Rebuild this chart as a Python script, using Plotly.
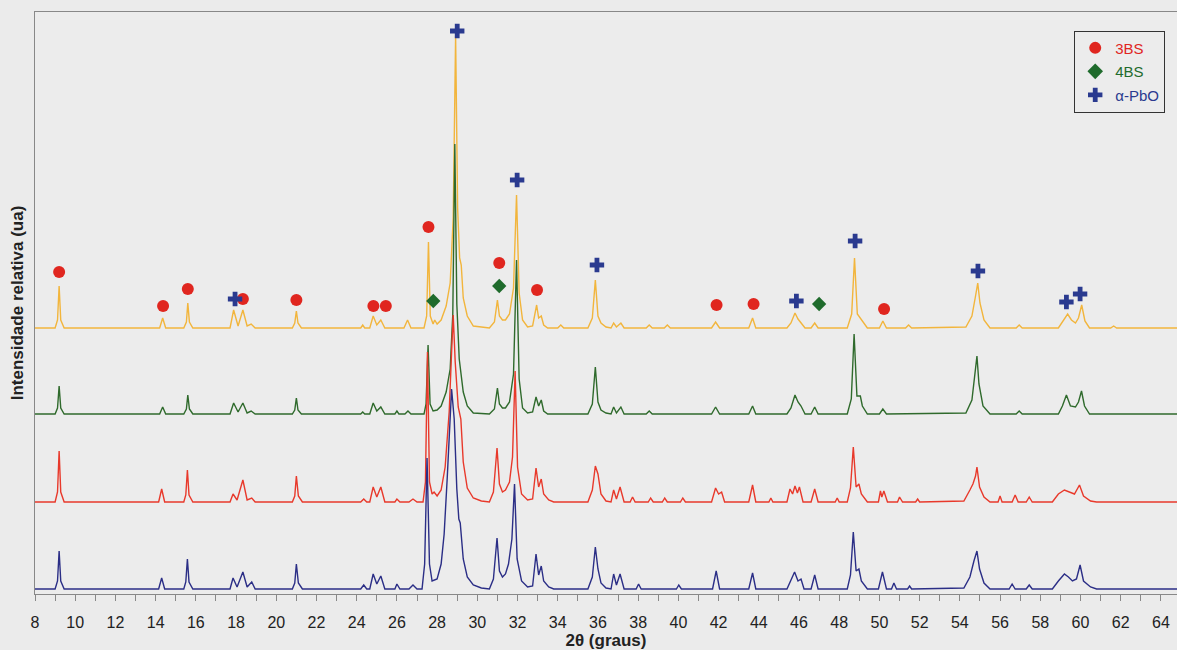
import plotly.graph_objects as go

# ---- data: vertices (2theta, height above the trace's own baseline)
yellow_pts = [(8,0),(9.0,0),(9.12,8),(9.2,42),(9.28,8),(9.45,0),
(14.2,0),(14.35,10),(14.5,0),
(15.4,0),(15.53,6),(15.6,25),(15.68,6),(15.85,0),
(17.7,0),(17.88,18),(18.1,2),(18.34,18),(18.55,2),(18.75,4),(18.95,0),
(20.8,0),(20.92,5),(21.0,17),(21.08,5),(21.25,0),
(24.2,0),(24.3,3),(24.4,0),(24.65,0),(24.82,12),(25.0,3),(25.2,8),(25.4,0),
(26.35,0),(26.53,8),(26.7,0),
(27.35,0),(27.48,12),(27.57,86),(27.66,12),(27.8,4),(27.88,8),(28.0,4),
(28.2,8),(28.45,22),(28.65,45),(28.8,110),(28.92,292),(29.02,120),(29.12,70),(29.2,63),(29.3,30),(29.5,12),(29.8,2),
(30.6,0),(30.85,6),(31.0,28),(31.1,12),(31.25,8),(31.4,8),(31.6,14),(31.8,40),(31.95,133),(32.08,35),(32.25,8),(32.5,1),
(32.75,2),(32.95,23),(33.05,10),(33.18,12),(33.3,3),(33.5,0),
(34.0,0),(34.15,3),(34.3,0),
(35.5,0),(35.72,10),(35.87,48),(36.0,12),(36.15,5),(36.4,1),
(36.65,0),(36.78,5),(36.92,1),(37.14,5),(37.3,0),
(38.4,0),(38.55,3),(38.7,0),
(39.3,0),(39.45,3),(39.6,0),
(41.65,0),(41.85,6),(42.05,0),
(43.5,0),(43.69,10),(43.85,0),
(45.4,0),(45.6,5),(45.8,15),(45.95,9),(46.1,5),(46.3,0),
(46.6,0),(46.78,5),(46.95,0),
(48.4,0),(48.62,14),(48.76,70),(48.9,14),(49.05,10),(49.15,7),(49.4,0),
(50.0,0),(50.17,7),(50.35,0),
(51.3,0),(51.45,3),(51.6,0),
(54.3,1),(54.6,12),(54.78,32),(54.89,45),(55.0,25),(55.2,8),(55.5,0),
(56.8,0),(56.95,3),(57.1,0),
(58.9,0),(59.2,9),(59.36,14),(59.55,8),(59.75,5),(59.9,10),(60.06,23),(60.22,7),(60.45,0),
(61.5,0),(61.65,2),(61.8,0),
(64.8,0)]

green_pts = [(8,0),(9.0,0),(9.12,6),(9.2,28),(9.28,6),(9.45,0),
(14.2,0),(14.35,7),(14.5,0),
(15.4,0),(15.53,5),(15.6,19),(15.68,5),(15.85,0),
(17.7,0),(17.88,11),(18.1,2),(18.34,11),(18.55,1),(18.75,3),(18.95,0),
(20.8,0),(20.92,4),(21.0,16),(21.08,4),(21.25,0),
(24.2,0),(24.3,2),(24.4,0),(24.65,0),(24.82,11),(25.0,3),(25.2,7),(25.4,0),
(25.9,0),(26.0,3),(26.1,0),
(26.4,0),(26.55,3),(26.7,0),
(27.35,0),(27.45,10),(27.55,69),(27.65,10),(27.8,3),(28.0,4),
(28.2,8),(28.45,22),(28.65,45),(28.78,100),(28.88,270),(28.98,110),(29.1,55),(29.2,40),(29.3,22),(29.5,8),(29.8,1),
(30.6,0),(30.85,5),(31.0,26),(31.1,10),(31.25,6),(31.4,6),(31.6,12),(31.8,40),(31.95,154),(32.08,35),(32.25,6),(32.5,1),
(32.75,2),(32.92,17),(33.05,8),(33.18,14),(33.3,3),(33.5,0),
(35.5,0),(35.72,10),(35.87,47),(36.0,12),(36.15,4),(36.4,1),
(36.65,0),(36.78,7),(36.92,1),(37.14,7),(37.3,0),
(38.4,0),(38.55,3),(38.7,0),
(41.65,0),(41.85,7),(42.05,0),
(43.5,0),(43.69,8),(43.85,0),
(45.4,0),(45.6,6),(45.8,19),(45.95,12),(46.1,8),(46.3,0),
(46.6,0),(46.78,7),(46.95,0),
(48.4,0),(48.6,15),(48.74,80),(48.88,18),(49.05,18),(49.15,8),(49.4,0),
(50.0,0),(50.17,5),(50.35,0),
(54.3,1),(54.6,14),(54.75,38),(54.85,58),(54.95,30),(55.15,8),(55.5,0),
(56.8,0),(56.95,3),(57.1,0),
(58.9,0),(59.1,8),(59.3,19),(59.5,8),(59.75,7),(59.9,12),(60.05,23),(60.2,8),(60.45,0),
(64.8,0)]

red_pts = [(8,0),(9.0,0),(9.12,10),(9.2,51),(9.28,10),(9.45,0),
(14.15,0),(14.3,13),(14.45,0),
(15.4,0),(15.5,7),(15.58,32),(15.66,7),(15.85,0),
(17.7,0),(17.85,8),(18.05,2),(18.34,22),(18.55,2),(18.78,4),(18.95,0),
(20.8,0),(20.92,6),(21.0,26),(21.1,6),(21.3,0),
(24.2,0),(24.35,3),(24.5,0),(24.65,0),(24.82,15),(25.0,5),(25.2,15),(25.4,0),
(25.9,0),(26.0,3),(26.15,0),
(26.6,0),(26.8,3),(27.0,0),
(27.3,0),(27.42,20),(27.52,150),(27.62,20),(27.75,8),(27.85,10),(28.0,6),
(28.2,12),(28.4,35),(28.6,90),(28.72,150),(28.8,187),(28.9,140),(29.05,95),(29.18,83),(29.3,40),(29.5,14),(29.8,4),(30.2,1),
(30.6,0),(30.8,10),(30.98,54),(31.1,18),(31.25,10),(31.4,12),(31.6,20),(31.75,45),(31.88,131),(32.0,35),(32.2,8),(32.5,2),
(32.75,3),(32.92,34),(33.05,15),(33.18,23),(33.3,8),(33.55,2),(33.8,0),
(35.5,0),(35.72,12),(35.87,36),(36.0,28),(36.15,8),(36.4,1),
(36.65,0),(36.78,12),(36.92,3),(37.1,15),(37.3,0),
(37.6,0),(37.72,5),(37.85,0),
(38.5,0),(38.62,4),(38.75,0),
(39.2,0),(39.32,4),(39.45,0),
(40.1,0),(40.22,4),(40.35,0),
(41.65,0),(41.85,14),(42.0,8),(42.15,10),(42.3,0),
(43.5,0),(43.69,17),(43.85,0),
(44.5,0),(44.6,4),(44.7,0),
(45.4,0),(45.55,13),(45.68,8),(45.8,16),(45.92,9),(46.02,15),(46.2,0),
(46.6,0),(46.78,13),(46.95,0),
(47.8,0),(47.9,4),(48.0,0),
(48.4,0),(48.56,14),(48.7,55),(48.84,15),(48.98,18),(49.1,8),(49.4,0),
(49.95,0),(50.05,11),(50.12,5),(50.22,11),(50.4,0),
(50.9,0),(51.0,5),(51.15,0),
(51.8,0),(51.9,3),(52.0,0),
(54.2,1),(54.5,12),(54.65,18),(54.78,26),(54.85,35),(54.98,15),(55.2,5),(55.5,0),
(55.9,0),(56.0,6),(56.1,0),
(56.6,0),(56.75,7),(56.9,0),
(57.3,0),(57.45,5),(57.6,0),
(58.6,0),(58.9,8),(59.2,12),(59.45,10),(59.7,8),(59.95,17),(60.15,6),(60.5,1),(60.8,0),
(64.8,0)]

blue_pts = [(8,0),(9.0,0),(9.12,8),(9.2,38),(9.28,8),(9.45,0),
(14.15,0),(14.3,11),(14.45,0),
(15.4,0),(15.5,7),(15.58,30),(15.66,7),(15.85,0),
(17.7,0),(17.85,11),(18.05,2),(18.34,17),(18.55,2),(18.78,7),(18.95,0),
(20.8,0),(20.92,6),(21.0,25),(21.1,6),(21.3,0),
(24.2,0),(24.35,4),(24.5,0),(24.65,0),(24.82,15),(25.0,5),(25.2,13),(25.4,0),
(25.9,0),(26.0,5),(26.15,0),
(26.6,0),(26.8,4),(27.0,0),
(27.25,0),(27.38,25),(27.5,131),(27.62,25),(27.75,8),(28.0,10),
(28.2,25),(28.35,55),(28.5,110),(28.62,165),(28.72,200),(28.85,170),(28.98,100),(29.08,70),(29.15,66),(29.3,30),(29.5,12),(29.8,4),(30.2,1),
(30.6,0),(30.8,10),(30.98,51),(31.1,18),(31.25,12),(31.4,15),(31.55,25),(31.72,50),(31.85,105),(31.98,30),(32.2,8),(32.5,2),
(32.75,3),(32.92,35),(33.05,14),(33.18,23),(33.3,8),(33.55,2),(33.8,0),
(35.5,0),(35.72,12),(35.87,42),(36.0,20),(36.15,6),(36.4,1),
(36.65,0),(36.78,15),(36.92,4),(37.1,15),(37.3,0),
(37.9,0),(38.02,5),(38.15,0),
(39.9,0),(40.02,4),(40.15,0),
(41.7,0),(41.88,18),(42.05,0),
(43.5,0),(43.69,16),(43.85,0),
(45.4,0),(45.6,10),(45.78,17),(45.95,8),(46.1,10),(46.25,0),
(46.6,0),(46.78,14),(46.95,0),
(48.4,0),(48.56,14),(48.7,57),(48.84,18),(48.98,20),(49.1,8),(49.4,0),
(49.95,0),(50.15,17),(50.35,0),
(50.6,0),(50.72,6),(50.85,0),
(51.4,0),(51.5,3),(51.6,0),
(54.2,1),(54.5,12),(54.7,28),(54.85,38),(54.98,20),(55.2,6),(55.5,0),
(56.45,0),(56.6,5),(56.75,0),
(57.3,0),(57.45,4),(57.6,0),
(58.6,0),(58.9,8),(59.2,15),(59.4,12),(59.6,8),(59.8,10),(59.98,24),(60.15,8),(60.5,2),(60.8,0),
(64.8,0)]

# vertical offsets of the stacked patterns (arbitrary units)
offsets = {"yellow": 266, "green": 180, "red": 92, "blue": 5}

# phase markers (2theta, marker height in the same arbitrary units)
bs3_x = [9.2, 14.37, 15.6, 18.34, 21.0, 24.83, 25.45, 27.57, 31.09, 32.97, 41.9, 43.74, 50.23]
bs3_y = [322, 288, 305, 295, 294, 288, 288, 367, 331, 304, 289, 290, 285]
bs4_x = [27.81, 31.09, 47.0]
bs4_y = [293, 308, 290]
pbo_x = [17.95, 29.0, 31.98, 35.95, 45.87, 48.79, 54.9, 59.3, 59.98]
pbo_y = [295, 563, 414, 329, 293, 353, 323, 292, 300]

x_ticks = list(range(8, 66, 2))

line_colors = {"yellow": "#f2b53c", "green": "#2f6a2c", "red": "#e8392b", "blue": "#2b2e86"}
RED_M, GREEN_M, BLUE_M = "#e0261f", "#1f6b2c", "#2a3a8f"

fig = go.Figure()
for key, pts in [("yellow", yellow_pts), ("green", green_pts), ("red", red_pts), ("blue", blue_pts)]:
    xs = [p[0] for p in pts]
    ys = [p[1] + offsets[key] for p in pts]
    fig.add_trace(go.Scatter(x=xs, y=ys, mode="lines", showlegend=False,
                             line=dict(color=line_colors[key], width=1.4), hoverinfo="skip"))

fig.add_trace(go.Scatter(x=bs3_x, y=bs3_y, mode="markers", legendgroup="a",
                         name="<span style='color:%s'>3BS</span>" % RED_M,
                         marker=dict(symbol="circle", size=12, color=RED_M)))
fig.add_trace(go.Scatter(x=bs4_x, y=bs4_y, mode="markers", legendgroup="b",
                         name="<span style='color:%s'>4BS</span>" % GREEN_M,
                         marker=dict(symbol="diamond", size=11, color=GREEN_M)))
fig.add_trace(go.Scatter(x=pbo_x, y=pbo_y, mode="markers", legendgroup="c",
                         name="<span style='color:%s'>α-PbO</span>" % BLUE_M,
                         marker=dict(symbol="cross", size=12, color=BLUE_M)))

fig.update_layout(
    width=1177, height=650,
    margin=dict(l=35, r=0, t=12, b=56, autoexpand=False),
    paper_bgcolor="#ebebeb", plot_bgcolor="#ececec",
    font=dict(family="Liberation Sans, Arial, sans-serif", size=15, color="#222"),
    legend=dict(x=0.91, y=0.968, xanchor="left", yanchor="top",
                bgcolor="rgba(0,0,0,0)", bordercolor="#333", borderwidth=1,
                font=dict(size=15), itemsizing="constant", tracegroupgap=1,
                itemwidth=30),
    xaxis=dict(range=[8, 64.8], tickvals=x_ticks, ticktext=[str(t) for t in x_ticks],
               showgrid=False, zeroline=False, showline=True, linecolor="#888", linewidth=1,
               mirror=True, ticks="outside", ticklen=6, tickcolor="#888",
               minor=dict(dtick=1, ticks="outside", ticklen=6, tickcolor="#888"),
               tickfont=dict(size=16, color="#222"), ticklabelstandoff=8,
               title=dict(text="<b>2θ (graus)</b>", font=dict(size=17, color="#222"), standoff=2)),
    yaxis=dict(range=[0, 582], showticklabels=False, showgrid=False, zeroline=False,
               showline=True, linecolor="#888", linewidth=1, ticks="",
               title=dict(text="<b>Intensidade relativa (ua)</b>", font=dict(size=17, color="#222"), standoff=6)),
)

fig.write_html("out.html", config={"displayModeBar": False},
               post_script="document.body.style.margin='0px';document.body.style.overflow='hidden';")
